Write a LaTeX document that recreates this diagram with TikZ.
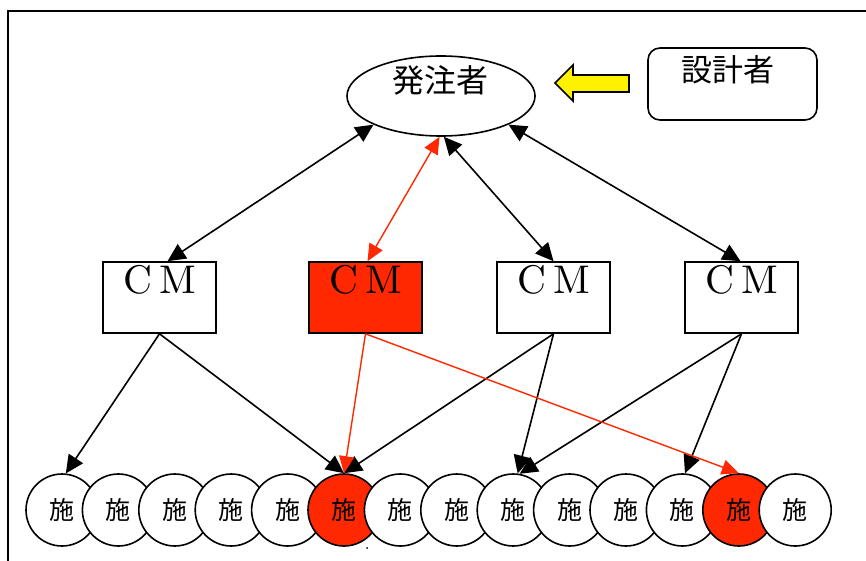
\documentclass[tikz,border=0pt]{standalone}
\usepackage{fontspec}
\newfontfamily\jp{Noto Sans CJK JP}
\newfontfamily\cmfont{lmroman10-regular.otf}
\usetikzlibrary{arrows.meta,shapes.geometric}
\definecolor{hred}{RGB}{255,40,0}
\tikzset{
  lw/.style={line width=1.6pt},
  cmbox/.style={draw,lw,minimum width=113pt,minimum height=71pt,inner sep=0pt},
  cmtext/.style={font=\cmfont\fontsize{40}{40}\selectfont,inner sep=0pt},
  worker/.style={circle,draw,lw,fill=white,minimum size=72pt,inner sep=0pt,font=\jp\fontsize{25}{25}\selectfont},
  link/.style={lw,-{Triangle[length=18pt,width=17pt]}},
  blink/.style={lw,{Triangle[length=18pt,width=17pt]}-{Triangle[length=18pt,width=17pt]}},
  rlink/.style={line width=1.4pt,hred,-{Triangle[length=17pt,width=15pt]}},
  rblink/.style={line width=1.4pt,hred,{Triangle[length=17pt,width=15pt]}-{Triangle[length=17pt,width=15pt]}},
}
\begin{document}
\begin{tikzpicture}[x=1pt,y=-1pt]
\useasboundingbox (0,0) rectangle (866,561);
\fill[white] (0,0) rectangle (866,561);
\draw[line width=2pt] (8,561) -- (8,11) -- (866,11);

% owner
\node[ellipse,draw,lw,minimum width=188pt,minimum height=80pt,inner sep=0pt] (owner) at (441,96) {};
\node[font=\jp\fontsize{32}{32}\selectfont,inner sep=0pt] (ownertxt) at (440,80) {発注者};

% designer
\node[draw,lw,rounded corners=12pt,minimum width=169pt,minimum height=72pt,inner sep=0pt] (designer) at (732.5,84) {};
\node[font=\jp\fontsize{31}{31}\selectfont,inner sep=0pt] (designertxt) at (728,70) {設計者};

% yellow arrow
\draw[lw,fill=yellow,line join=miter] (555,83) -- (573,65) -- (573,75) -- (629,75) -- (629,92) -- (573,92) -- (573,101) -- cycle;

% CM boxes
\node[cmbox] (cm1) at (159.5,297.5) {};
\node[cmbox,fill=hred] (cm2) at (365.5,297.5) {};
\node[cmbox] (cm3) at (553.5,297.5) {};
\node[cmbox] (cm4) at (741.5,297.5) {};
\foreach \i in {1,...,4}{
  \node[cmtext,anchor=base] (cmt\i) at ([yshift=-32pt]cm\i.north) {C\hspace{7pt}M};
}

% workers
\foreach \i in {1,...,14}{
  \pgfmathsetmacro{\cx}{62+56.4*(\i-1)}
  \ifnum\i=6
    \node[worker,fill=hred] (c\i) at (\cx,510) {施};
  \else\ifnum\i=13
    \node[worker,fill=hred] (c\i) at (\cx,510) {施};
  \else
    \node[worker] (c\i) at (\cx,510) {施};
  \fi\fi
}
\fill (367,548) circle (1pt);

% owner to CM
\draw[blink] (owner.203) -- ([xshift=8pt]cm1.north);
\draw[rblink] (owner.268) -- ([xshift=2pt]cm2.north);
\draw[blink] (owner.274) -- (cm3.north);
\draw[blink] (owner.337) -- ([xshift=-1pt]cm4.north);

% CM to workers
\draw[link] (cm1.south) -- (c1.84);
\draw[link] (cm1.south) -- (c6.north);
\draw[link] (cm3.south) -- (c6.north);
\draw[link] (cm3.south) -- (c9.83);
\draw[link] (cm4.south) -- (c9.80);
\draw[link] (cm4.south) -- (c12.86);
\draw[rlink] (cm2.south) -- (c6.north);
\draw[rlink] (cm2.south) -- (c13.north);
\end{tikzpicture}
\end{document}
